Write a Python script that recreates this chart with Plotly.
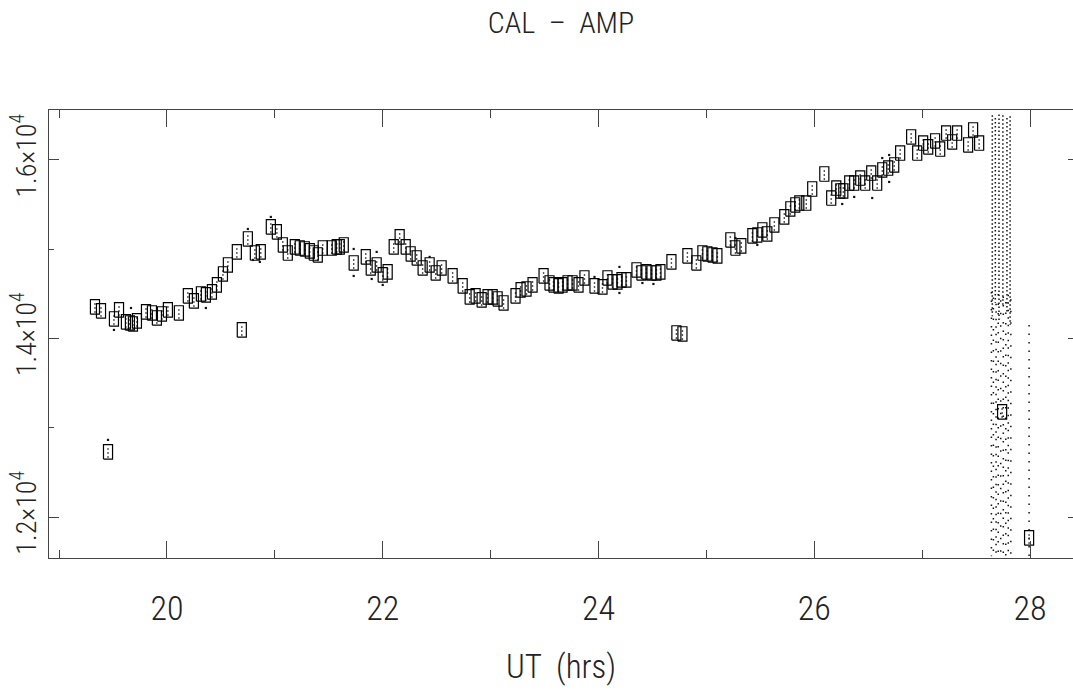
import plotly.graph_objects as go

# Calibrator amplitude per scan: UT (hours) and mean amplitude
ut_hrs = [
    19.333, 19.389, 19.509, 19.556, 19.620, 19.657, 19.685, 19.722, 19.806, 19.861,
    19.907, 19.954, 20.009, 20.111, 20.194, 20.250, 20.315, 20.361, 20.417, 20.463,
    20.519, 20.565, 20.648, 20.750, 20.815, 20.870, 20.963, 21.019, 21.074, 21.120,
    21.185, 21.231, 21.278, 21.324, 21.361, 21.398, 21.444, 21.528, 21.574, 21.602,
    21.639, 21.731, 21.843, 21.889, 21.944, 22.000, 22.046, 22.102, 22.157, 22.213,
    22.259, 22.315, 22.370, 22.435, 22.491, 22.546, 22.648, 22.741, 22.806, 22.861,
    22.917, 22.972, 23.019, 23.065, 23.120, 23.231, 23.278, 23.333, 23.389, 23.491,
    23.546, 23.583, 23.630, 23.667, 23.713, 23.759, 23.815, 23.870, 23.963, 24.037,
    24.083, 24.130, 24.176, 24.213, 24.259, 24.352, 24.398, 24.444, 24.491, 24.537,
    24.574, 24.676, 24.824, 24.907, 24.963, 25.009, 25.056, 25.102, 25.222, 25.269,
    25.324, 25.426, 25.472, 25.519, 25.565, 25.630, 25.722, 25.778, 25.824, 25.861,
    25.926, 25.981, 26.093, 26.157, 26.204, 26.241, 26.269, 26.324, 26.370, 26.426,
    26.472, 26.528, 26.583, 26.630, 26.685, 26.741, 26.796, 26.898, 26.954, 27.009,
    27.056, 27.120, 27.167, 27.222, 27.278, 27.324, 27.426, 27.472, 27.528,
    # isolated scans
    19.454, 20.694, 24.722, 24.778, 27.741, 27.991,
]
cal_amp = [
    14354, 14309, 14219, 14320, 14186, 14174, 14163, 14197, 14298, 14286,
    14230, 14275, 14320, 14286, 14477, 14421, 14499, 14488, 14522, 14600,
    14723, 14824, 14970, 15115, 14958, 14970, 15250, 15194, 15048, 14958,
    15026, 15014, 15003, 14981, 14958, 14936, 15014, 15014, 15026, 15026,
    15048, 14846, 14914, 14790, 14824, 14712, 14746, 15026, 15138, 15026,
    14947, 14902, 14790, 14824, 14734, 14790, 14701, 14589, 14466, 14477,
    14432, 14466, 14466, 14443, 14398, 14477, 14544, 14555, 14600, 14701,
    14622, 14600, 14589, 14600, 14622, 14622, 14600, 14678, 14589, 14578,
    14678, 14634, 14634, 14656, 14656, 14768, 14734, 14746, 14734, 14734,
    14746, 14858, 14925, 14846, 14958, 14947, 14936, 14925, 15104, 15014,
    15037, 15149, 15160, 15216, 15171, 15272, 15362, 15451, 15496, 15518,
    15518, 15675, 15843, 15574, 15686, 15653, 15653, 15742, 15742, 15798,
    15742, 15854, 15742, 15888, 15910, 15944, 16078, 16258, 16078, 16190,
    16146, 16213, 16123, 16302, 16202, 16302, 16168, 16336, 16190,
    12730, 14096, 14062, 14051, 13178, 11766,
]

# Individual samples lying outside their scan box
stray_ut = [
    19.509, 19.667, 20.361, 20.750, 20.963, 20.861, 20.796, 21.731, 21.731, 21.944,
    21.898, 22.435, 22.000, 24.194, 24.194, 24.509, 24.407, 23.963, 26.259, 26.370,
    26.537, 26.694, 26.630, 26.694, 25.472, 25.269, 19.454,
]
stray_amp = [
    14096, 14342, 14342, 15227, 15362, 14858, 14880, 15003, 14701, 14970,
    14667, 14914, 14600, 14802, 14510, 14611, 14622, 14690, 15507, 15586,
    15574, 15754, 16022, 16056, 15048, 15126, 12864,
]

# Dense sample streams at the end of the track (UT, top amp, bottom amp)
dense_ut = [27.650, 27.678, 27.712, 27.748, 27.786, 27.815]
dense_top = [16500, 16470, 16510, 16500, 16470, 16490]
dense_bot = [14250, 14400, 14200, 14350, 14300, 14150]

# Sparser sample streams below them, and the lone stream near 28 h
sparse_ut = [27.642, 27.660, 27.685, 27.705, 27.728, 27.752, 27.775, 27.798, 27.822, 27.991]
sparse_top = [14520, 14460, 14390, 14500, 14430, 14470, 14410, 14490, 14440, 14150]
sparse_bot = [11560, 11560, 11560, 11560, 11560, 11560, 11560, 11560, 11560, 11560]
sparse_gap = [7, 9, 6, 8, 11, 7, 9, 6, 10, 7]

x_ticks = [20, 22, 24, 26, 28]
y_ticks = [12000, 14000, 16000]
y_ticktext = ["1.2×10<sup>4</sup>", "1.4×10<sup>4</sup>", "1.6×10<sup>4</sup>"]

BOX_HALF_W = 0.042   # hours
BOX_HALF_H = 81      # amplitude units

NARROW = "Roboto Condensed, Roboto, sans-serif"

# Build outline paths for each scan box and its inner sample streak
bx, by, sx, sy = [], [], [], []
for u, a in zip(ut_hrs, cal_amp):
    x0, x1 = u - BOX_HALF_W, u + BOX_HALF_W
    y0, y1 = a - BOX_HALF_H, a + BOX_HALF_H
    bx += [x0, x1, x1, x0, x0, None]
    by += [y0, y0, y1, y1, y0, None]
    sx += [u, u, None]
    sy += [a - 0.8 * BOX_HALF_H, a + 0.8 * BOX_HALF_H, None]

fig = go.Figure()
dx, dy = [], []
for u, t, b in zip(dense_ut, dense_top, dense_bot):
    dx += [u, u, None]
    dy += [t, b, None]
fig.add_trace(go.Scatter(x=dx, y=dy, mode="lines",
                         line=dict(color="#111", width=1.5, dash="1.5px,2.5px"),
                         hoverinfo="skip", showlegend=False))
for u, t, b, g in zip(sparse_ut, sparse_top, sparse_bot, sparse_gap):
    fig.add_trace(go.Scatter(x=[u, u], y=[t, b], mode="lines",
                             line=dict(color="#111", width=1.5, dash=f"1.5px,{g}px"),
                             hoverinfo="skip", showlegend=False))
fig.add_trace(go.Scatter(x=sx, y=sy, mode="lines",
                         line=dict(color="#222", width=1.4, dash="1.5px,2.5px"),
                         hoverinfo="skip", showlegend=False))
fig.add_trace(go.Scatter(x=bx, y=by, mode="lines",
                         line=dict(color="#000", width=1.2),
                         hoverinfo="skip", showlegend=False))
fig.add_trace(go.Scatter(x=stray_ut, y=stray_amp, mode="markers",
                         marker=dict(color="#111", size=2.2, symbol="square"),
                         hoverinfo="skip", showlegend=False))
# right-hand tick marks only (no frame line on that side)
fig.add_trace(go.Scatter(x=[None], y=[None], yaxis="y2", showlegend=False))

fig.update_layout(
    width=1073, height=692,
    margin=dict(l=49, r=0, t=110, b=134),
    paper_bgcolor="white", plot_bgcolor="white",
    title=dict(text="CAL  –  AMP", x=0.5, xref="paper", xanchor="center",
               y=1 - 22 / 692, yref="container", yanchor="middle",
               font=dict(family=NARROW, size=30, color="#222", weight=300)),
    xaxis=dict(
        range=[18.907, 28.398], tickvals=x_ticks, ticks="inside", ticklen=17,
        tickwidth=1, tickcolor="#444", showline=True, linecolor="#444", linewidth=1,
        mirror="ticks", showgrid=False, zeroline=False, automargin=False,
        minor=dict(dtick=1, tick0=19, ticks="inside", ticklen=8, tickcolor="#444", showgrid=False),
        tickfont=dict(family=NARROW, size=34, color="#222", weight=300),
        ticklabelstandoff=20,
        title=dict(text="UT  (hrs)", font=dict(family=NARROW, size=33, color="#222", weight=300), standoff=28),
    ),
    yaxis=dict(
        range=[11541, 16560], tickvals=y_ticks, ticktext=y_ticktext, tickangle=-90,
        ticks="inside", ticklen=10, tickcolor="#444", showline=True, linecolor="#444",
        linewidth=1, mirror=False, showgrid=False, zeroline=False, automargin=False,
        minor=dict(dtick=1000, tick0=11000, ticks="inside", ticklen=5, tickcolor="#444", showgrid=False),
        tickfont=dict(family=NARROW, size=28, color="#222", weight=300),
        ticklabelstandoff=1,
    ),
    yaxis2=dict(
        range=[11541, 16560], overlaying="y", side="right", tickvals=y_ticks,
        ticks="inside", ticklen=5, tickcolor="#444", showticklabels=False,
        showline=False, showgrid=False, zeroline=False, automargin=False,
    ),
)

fig.write_html("out.html")
